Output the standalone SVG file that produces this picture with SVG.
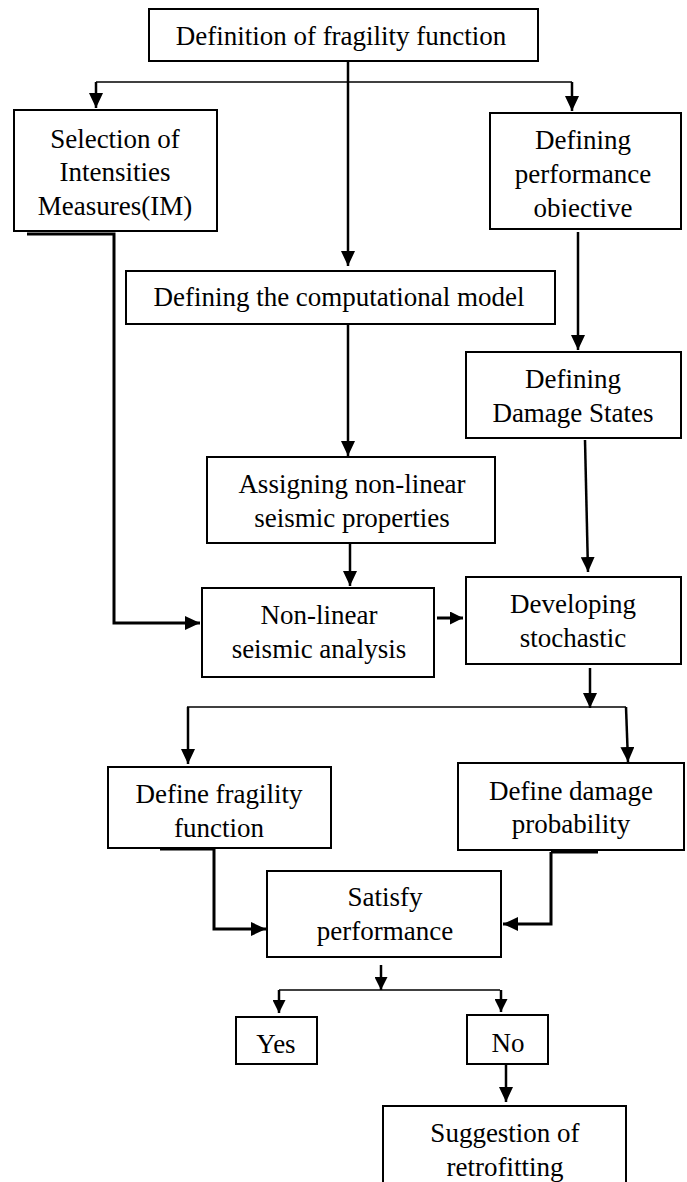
<svg xmlns="http://www.w3.org/2000/svg" width="687" height="1182" viewBox="0 0 687 1182">
<style>
.box{fill:#fff;stroke:#000;stroke-width:2}
.t{font-family:"Liberation Serif","Times New Roman",serif;font-size:27px;fill:#000;text-anchor:middle}
.c{fill:none;stroke:#000;stroke-width:2.5}
.thin{fill:none;stroke:#000;stroke-width:1.5}
.thick{fill:none;stroke:#000;stroke-width:3}
</style>
<defs>
<marker id="ah" markerUnits="userSpaceOnUse" markerWidth="15" markerHeight="14" refX="15" refY="7" orient="auto" viewBox="0 0 15 14">
<path d="M0,0 L15,7 L0,14 z" fill="#000"/>
</marker>
<marker id="as" markerUnits="userSpaceOnUse" markerWidth="13" markerHeight="13" refX="13" refY="6.5" orient="auto" viewBox="0 0 13 13">
<path d="M0,0 L13,6.5 L0,13 z" fill="#000"/>
</marker>
<clipPath id="clipObj"><rect x="490" y="113" width="191" height="104"/></clipPath>
</defs>
<g id="connectors">
<path class="c" d="M348,61 V266" marker-end="url(#ah)"/>
<path class="thin" d="M96,82 H572"/>
<path class="c" d="M96,82 V108" marker-end="url(#ah)"/>
<path class="c" d="M572,82 V111" marker-end="url(#ah)"/>
<path class="thick" d="M27,234 H114 V623 H200" marker-end="url(#ah)"/>
<path class="c" d="M578,232 V350" marker-end="url(#ah)"/>
<path class="c" d="M348,324 V456" marker-end="url(#ah)"/>
<path class="c" d="M350,543 V586" marker-end="url(#ah)"/>
<path class="c" d="M585,440 L588,572" marker-end="url(#ah)"/>
<path class="thick" d="M437,618 H463" marker-end="url(#as)"/>
<path class="c" d="M590,668 V708" marker-end="url(#ah)"/>
<path class="thin" d="M187,707 H626"/>
<path class="c" d="M188,707 V764" marker-end="url(#ah)"/>
<path class="c" d="M626,707 L628,762" marker-end="url(#ah)"/>
<path class="thick" d="M160,849 H214"/>
<path class="thick" d="M214,849 V929 H266" marker-end="url(#ah)"/>
<path class="thick" d="M551,852 H598"/>
<path class="thick" d="M551,852 V924 H503" marker-end="url(#ah)"/>
<path class="c" d="M381,965 V990" marker-end="url(#as)"/>
<path class="thin" d="M279,990 H500"/>
<path class="c" d="M279,990 V1013" marker-end="url(#as)"/>
<path class="c" d="M501,990 V1012" marker-end="url(#as)"/>
<path class="c" d="M506,1064 V1102" marker-end="url(#ah)"/>
</g>
<g id="n1"><rect class="box" x="149" y="9" width="389" height="52"/><text class="t" x="341" y="45">Definition of fragility function</text></g>
<g id="n2"><rect class="box" x="14" y="110" width="203" height="121"/><text class="t" x="115" y="148">Selection of</text><text class="t" x="115" y="181">Intensities</text><text class="t" x="115" y="215">Measures(IM)</text></g>
<g id="n3"><rect class="box" x="490" y="113" width="191" height="116"/><text class="t" x="583" y="149">Defining</text><text class="t" x="583" y="183">performance</text><text class="t" x="583" y="217" clip-path="url(#clipObj)">objective</text></g>
<g id="n4"><rect class="box" x="126" y="271" width="429" height="53"/><text class="t" x="339" y="306">Defining the computational model</text></g>
<g id="n5"><rect class="box" x="466" y="352" width="215" height="86"/><text class="t" x="573" y="388">Defining</text><text class="t" x="573" y="422">Damage States</text></g>
<g id="n6"><rect class="box" x="207" y="457" width="288" height="86"/><text class="t" x="352" y="493">Assigning non-linear</text><text class="t" x="352" y="527">seismic properties</text></g>
<g id="n7"><rect class="box" x="202" y="588" width="232" height="89"/><text class="t" x="319" y="624">Non-linear</text><text class="t" x="319" y="658">seismic analysis</text></g>
<g id="n8"><rect class="box" x="466" y="577" width="215" height="87"/><text class="t" x="573" y="613">Developing</text><text class="t" x="573" y="647">stochastic</text></g>
<g id="n9"><rect class="box" x="108" y="767" width="223" height="81"/><text class="t" x="219" y="803">Define fragility</text><text class="t" x="219" y="837">function</text></g>
<g id="n10"><rect class="box" x="458" y="763" width="226" height="87"/><text class="t" x="571" y="800">Define damage</text><text class="t" x="571" y="833">probability</text></g>
<g id="n11"><rect class="box" x="267" y="871" width="234" height="86"/><text class="t" x="385" y="906">Satisfy</text><text class="t" x="385" y="940">performance</text></g>
<g id="n12"><rect class="box" x="236" y="1017" width="81" height="47"/><text class="t" x="276" y="1053">Yes</text></g>
<g id="n13"><rect class="box" x="467" y="1015" width="81" height="49"/><text class="t" x="508" y="1052">No</text></g>
<g id="n14"><rect class="box" x="383" y="1106" width="243" height="90"/><text class="t" x="505" y="1142">Suggestion of</text><text class="t" x="505" y="1176">retrofitting</text></g>
</svg>
